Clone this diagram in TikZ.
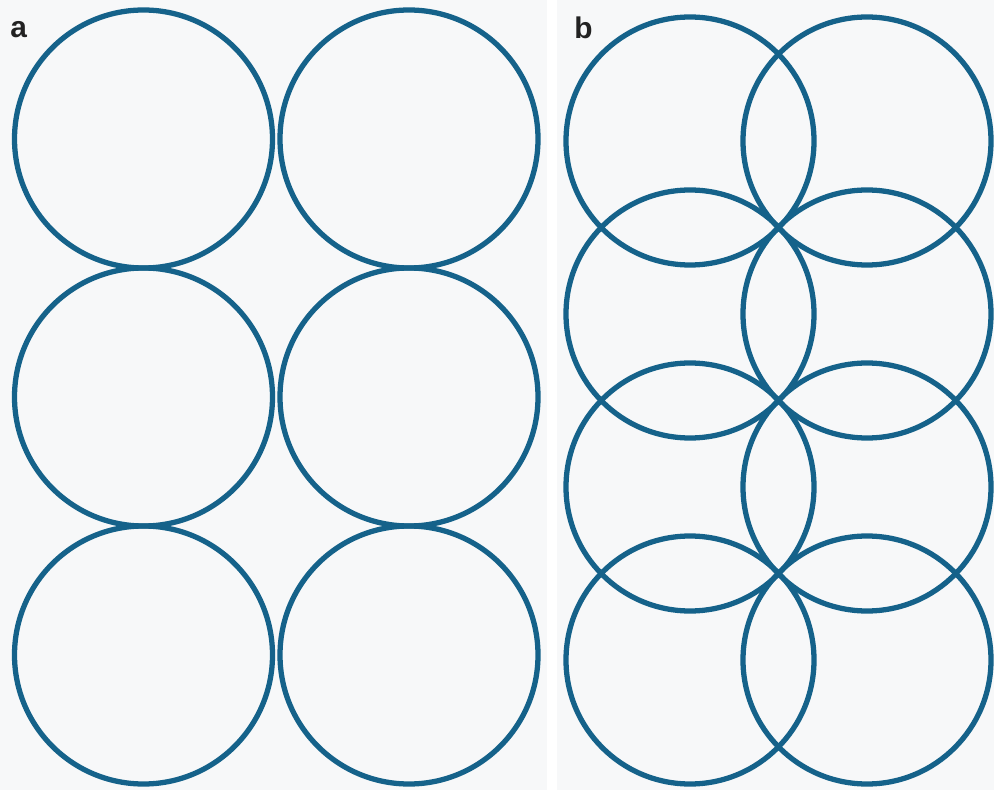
\documentclass[tikz,border=0pt]{standalone}
\usepackage{fontspec}
\setsansfont{Liberation Sans}
\definecolor{ringblue}{HTML}{15628A}
\definecolor{panelgray}{HTML}{F7F8F9}
\definecolor{tagdark}{HTML}{222222}
\tikzset{
  ring/.style={draw=ringblue,line width=3pt},
  panel/.style={fill=panelgray,draw=none},
  tag/.style={font=\sffamily\bfseries\fontsize{17}{17}\selectfont,text=tagdark,inner sep=0pt,anchor=base west}
}
\begin{document}
\begin{tikzpicture}[x=0.02cm,y=-0.02cm]
\useasboundingbox (0,0) rectangle (994,790);
\fill[white] (0,0) rectangle (994,790);
\path[panel] (0,0) rectangle (547,790);
\path[panel] (557,0) rectangle (994,790);
% panel a: touching circles
\foreach \cx in {143.5,409}
  \foreach \cy in {139,397,655}
    \draw[ring] (\cx,\cy) circle[radius=129];
% panel b: overlapping circles
\foreach \cx in {690,867}
  \foreach \cy in {141,314,487,660}
    \draw[ring] (\cx,\cy) circle[radius=124];
\node[tag] (taga) at (10,38) {a};
\node[tag] (tagb) at (574,39) {b};
\end{tikzpicture}
\end{document}
